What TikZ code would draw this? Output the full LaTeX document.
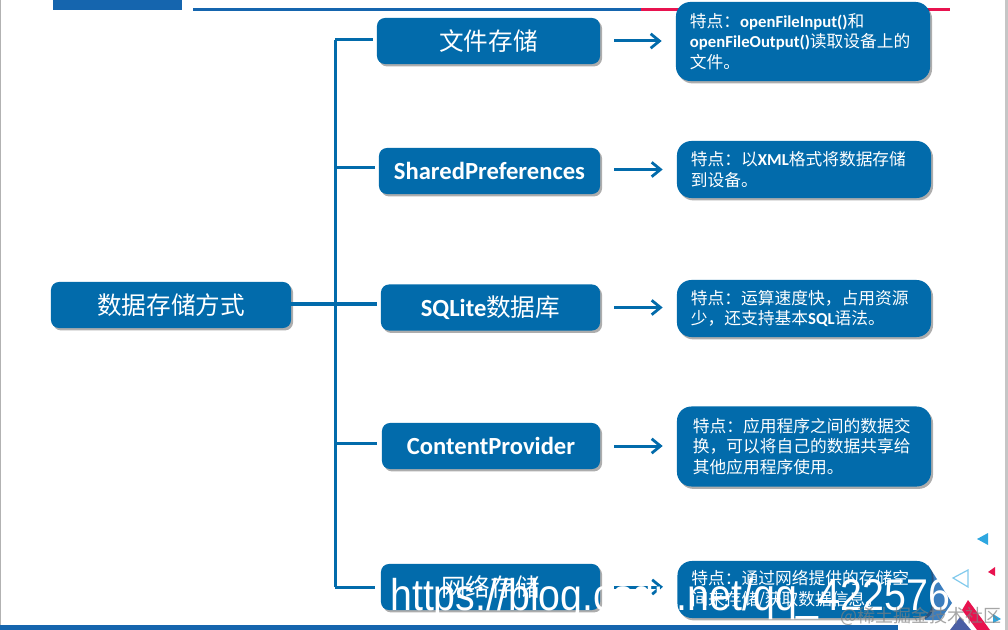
\documentclass[tikz,border=0pt]{standalone}
\usepackage{fontspec}
\setmainfont{Carlito}
\newfontfamily\cjk[BoldFont={Noto Sans CJK SC}]{Noto Sans CJK SC}
\newfontfamily\wmfont{Liberation Sans}
\usetikzlibrary{arrows.meta,positioning,shadows}
\definecolor{boxblue}{HTML}{026BAB}
\definecolor{barblue}{HTML}{1565AE}
\definecolor{barred}{HTML}{E8134F}
\definecolor{tipblue}{HTML}{2EA7E0}
\definecolor{cornerblue}{HTML}{3A7DBE}
\definecolor{slateblue}{HTML}{4A5FA5}
\tikzset{
  solidbox/.style={fill=boxblue,text=white,rounded corners=0.2cm,inner sep=0pt,
    drop shadow={shadow xshift=0.05cm,shadow yshift=-0.06cm,opacity=0.32,fill=black}},
  headbox/.style={solidbox,minimum height=1.15cm,font=\fontsize{17.5}{20}\selectfont\bfseries},
  notebox/.style={solidbox,rounded corners=0.36cm,text width=5.65cm,inner xsep=0.35cm,align=left,
    font=\fontsize{11.9}{14.6}\selectfont\bfseries},
  stem/.style={draw=boxblue,line width=0.075cm},
  flow/.style={stem,-{Straight Barb[length=0.22cm,width=0.36cm,line width=0.07cm]},shorten <=0.35cm,shorten >=0.35cm}
}
\begin{document}
\begin{tikzpicture}[x=0.025cm,y=-0.025cm]
\useasboundingbox (0,0) rectangle (1008,630);
\fill[gray!60] (0,0) rectangle (1.5,630);
\fill[gray!45] (1005,0) rectangle (1008,630);
\fill[barblue] (53,0) rectangle (182,10);
\fill[barblue] (193,8.5) rectangle (641,11.5);
\fill[barred] (641,8.5) rectangle (950,11.5);
\fill[barblue] (0,625) rectangle (898,630);
\fill[cornerblue] (928,565) -- (952,603) -- (940,620) -- (925,620) -- cycle;
\fill[slateblue] (960,617) -- (971,630) -- (950,630) -- cycle;
\fill[barred] (968,600) -- (990,630) -- (977,630) -- (962,610) -- cycle;
\fill[tipblue] (977,539) -- (988,533) -- (988,545) -- cycle;
\fill[barred] (988,572) -- (995,567) -- (995,576) -- cycle;
\draw[tipblue!60,line width=0.03cm] (953,578) -- (968,570) -- (968,587) -- cycle;
\fill[tipblue] (1001,619) -- (993,614) -- (993,623) -- cycle;

\node[headbox,minimum width=6cm] (root) at (171,305) {\cjk 数据存储方式};
\node[headbox,minimum width=5.575cm] (file) at (488.5,41) {\cjk 文件存储};
\node[headbox,minimum width=5.525cm] (shared) at (489.5,171) {SharedPreferences};
\node[headbox,minimum width=5.475cm] (sqlite) at (490.5,307.5) {SQLite{\cjk 数据库}};
\node[headbox,minimum width=5.45cm] (provider) at (491,446) {ContentProvider};
\node[headbox,minimum width=5.475cm] (net) at (490.5,587) {\cjk 网络存储};

\node[notebox,minimum height=1.975cm] (filenote) at (803,41.5) {{\cjk 特点：}openFileInput(){\cjk 和}\\openFileOutput(){\cjk 读取设备上的}\\{\cjk 文件。}};
\node[notebox,minimum height=1.425cm] (sharednote) at (804,169.5) {{\cjk 特点：以}XML{\cjk 格式将数据存储}\\{\cjk 到设备。}};
\node[notebox,minimum height=1.425cm] (sqlitenote) at (804,308.5) {{\cjk 特点：运算速度快，占用资源}\\{\cjk 少，还支持基本}SQL{\cjk 语法。}};
\node[notebox,minimum height=2cm,text width=5.55cm,inner xsep=0.4cm] (providernote) at (804,446.5) {{\cjk 特点：应用程序之间的数据交}\\{\cjk 换，可以将自己的数据共享给}\\{\cjk 其他应用程序使用。}};
\node[notebox,minimum height=1.425cm] (netnote) at (804.5,589.5) {{\cjk 特点：通过网络提供的存储空}\\{\cjk 间来存储/获取数据信息。}};

\coordinate (trunktop) at (335,40);
\coordinate (trunkshared) at (335,168);
\coordinate (trunkroot) at (335,304);
\coordinate (trunkprovider) at (335,443);
\coordinate (trunkbottom) at (335,587);
\draw[stem] (trunktop) -- (trunkbottom);
\draw[stem] (root.east |- trunkroot) -- (trunkroot);
\draw[stem,shorten >=0.08cm] (trunktop) -- (trunktop -| file.west);
\draw[stem,shorten >=0.08cm] (trunkshared) -- (trunkshared -| shared.west);
\draw[stem,shorten >=0.1cm] (trunkroot) -- (trunkroot -| sqlite.west);
\draw[stem,shorten >=0.12cm] (trunkprovider) -- (trunkprovider -| provider.west);
\draw[stem,shorten >=0.15cm] (trunkbottom) -- (trunkbottom -| net.west);

\draw[flow] (file.east) -- (file.east -| filenote.west);
\draw[flow] (shared.east |- sharednote.west) -- (sharednote.west);
\draw[flow] (sqlite.east) -- (sqlite.east -| sqlitenote.west);
\draw[flow] (provider.east) -- (provider.east -| providernote.west);
\draw[flow] (net.east) -- (net.east -| netnote.west);

\node[anchor=base west,inner sep=0pt,text=white,transform shape,xscale=0.885,font=\fontsize{31.6}{34}\selectfont\wmfont] (mark) at (390,610) {https://blog.csdn.net/qq\_422576};
\node[anchor=base west,inner sep=0pt,text=gray,opacity=0.7,font=\fontsize{12.8}{14}\selectfont\cjk] (site) at (840,622) {@稀土掘金技术社区};
\end{tikzpicture}
\end{document}
